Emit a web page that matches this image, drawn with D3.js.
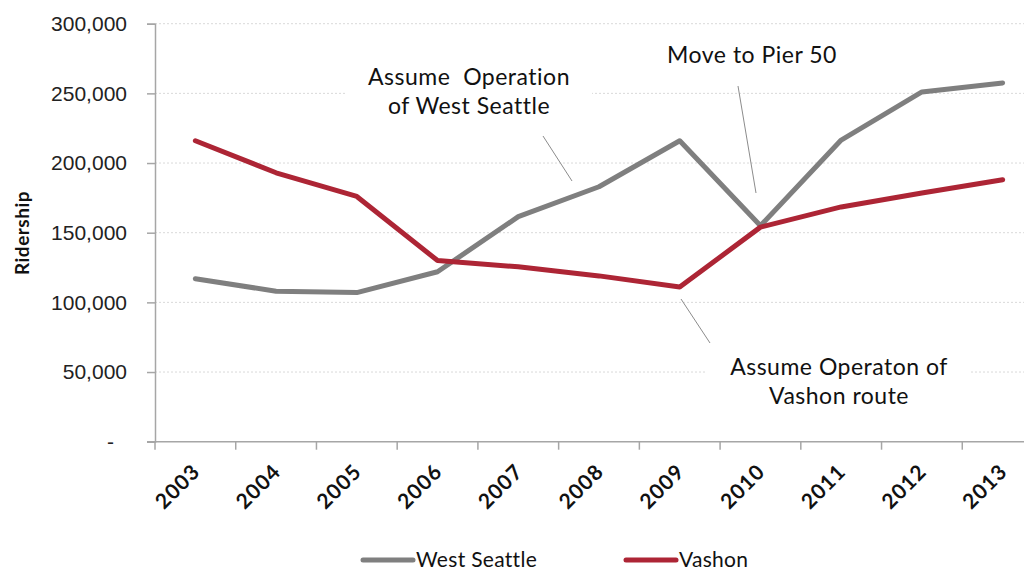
<!DOCTYPE html>
<html>
<head>
<meta charset="utf-8">
<script src="https://cdn.jsdelivr.net/npm/d3@7/dist/d3.min.js"></script>
<style>
  body { margin: 0; background: #fff; }
  svg { display: block; font-family: Lato, "Noto Sans", sans-serif; }
</style>
</head>
<body>
<svg id="chart" width="1024" height="571"></svg>
<script>
(function() {

  // data
  var years = ['2003', '2004', '2005', '2006', '2007', '2008', '2009', '2010', '2011', '2012', '2013'];
  var westSeattle = [117000, 108000, 107000, 122000, 161500, 183000, 216000, 155000, 216500, 251000, 257500];
  var vashon = [216000, 193000, 176000, 130000, 125500, 119000, 111000, 154000, 168500, 178500, 188000];
  var yTicks = [0, 50000, 100000, 150000, 200000, 250000, 300000];
  var seriesNames = ['West Seattle', 'Vashon'];
  var colors = ['#7f7f7f', '#ad2535'];

  var svg = d3.select('#chart');

  var x = d3.scaleBand()
    .domain(years)
    .range([155, 1043]);

  var y = d3.scaleLinear()
    .domain([0, 300000])
    .range([441.7, 23.7]);

  // gridlines (dotted)
  svg.append('g')
    .selectAll('line')
    .data(yTicks.filter(function(d) { return d > 0; }))
    .enter().append('line')
    .attr('x1', 155)
    .attr('x2', 1024)
    .attr('y1', function(d) { return y(d); })
    .attr('y2', function(d) { return y(d); })
    .attr('stroke', '#d9d9d9')
    .attr('stroke-width', 1)
    .attr('stroke-dasharray', '2,2');

  // y axis
  var yAxis = svg.append('g')
    .attr('transform', 'translate(155,0)')
    .call(d3.axisLeft(y)
      .tickValues(yTicks)
      .tickSize(8)
      .tickPadding(20)
      .tickFormat(function(d) { return d === 0 ? '-' : d3.format(',')(d); }));
  yAxis.select('.domain').attr('stroke', '#a6a6a6').attr('stroke-width', 1.5);
  yAxis.selectAll('.tick line').attr('stroke', '#a6a6a6').attr('stroke-width', 1.5);
  yAxis.selectAll('.tick text')
    .attr('fill', '#222')
    .style('font-size', '21px')
    .attr('dx', function(d) { return d === 0 ? -13 : 0; });

  // x axis: line, ticks at band edges, rotated labels at centers
  var xg = svg.append('g');
  xg.append('line')
    .attr('x1', 147).attr('x2', 1024)
    .attr('y1', y(0)).attr('y2', y(0))
    .attr('stroke', '#a6a6a6').attr('stroke-width', 1.5);
  xg.selectAll('.xtick')
    .data(years)
    .enter().append('line')
    .attr('class', 'xtick')
    .attr('x1', function(d) { return x(d); })
    .attr('x2', function(d) { return x(d); })
    .attr('y1', y(0))
    .attr('y2', y(0) + 8)
    .attr('stroke', '#a6a6a6').attr('stroke-width', 1.5);
  xg.selectAll('.xlabel')
    .data(years)
    .enter().append('text')
    .attr('class', 'xlabel')
    .attr('transform', function(d) {
      return 'translate(' + (x(d) + x.bandwidth() / 2 + 6) + ',473) rotate(-45)';
    })
    .attr('text-anchor', 'end')
    .style('font-size', '21px')
    .style('font-weight', 'bold')
    .style('letter-spacing', '1px')
    .attr('fill', '#111')
    .text(function(d) { return d; });

  // y title
  svg.append('text')
    .attr('transform', 'translate(29,233) rotate(-90)')
    .attr('text-anchor', 'middle')
    .style('font-size', '19px')
    .style('font-weight', 'bold')
    .style('letter-spacing', '0.5px')
    .attr('fill', '#111')
    .text('Ridership');

  // annotation boxes (white backgrounds hide the gridlines)
  svg.append('rect').attr('x', 345).attr('y', 60).attr('width', 247).attr('height', 62).attr('fill', '#fff');
  svg.append('rect').attr('x', 705).attr('y', 350).attr('width', 264).attr('height', 64).attr('fill', '#fff');

  // leader lines
  var leaders = [
    [543, 136, 572, 181],
    [738, 86, 756, 193],
    [681, 299, 710, 343]
  ];
  svg.append('g')
    .selectAll('line')
    .data(leaders)
    .enter().append('line')
    .attr('x1', function(d) { return d[0]; })
    .attr('y1', function(d) { return d[1]; })
    .attr('x2', function(d) { return d[2]; })
    .attr('y2', function(d) { return d[3]; })
    .attr('stroke', '#8c8c8c')
    .attr('stroke-width', 1);

  // series lines
  var seriesData = [westSeattle, vashon];
  var line = d3.line()
    .x(function(d, i) { return x(years[i]) + x.bandwidth() / 2; })
    .y(function(d) { return y(d); });

  svg.append('g')
    .selectAll('path')
    .data(seriesData)
    .enter().append('path')
    .attr('d', line)
    .attr('fill', 'none')
    .attr('stroke', function(d, i) { return colors[i]; })
    .attr('stroke-width', 5)
    .attr('stroke-linecap', 'round')
    .attr('stroke-linejoin', 'round');

  // annotation text
  var notes = [
    { x: 469, y: 85, lines: ['Assume\u00a0\u00a0Operation', 'of West Seattle'] },
    { x: 752, y: 63, lines: ['Move to Pier 50'] },
    { x: 839, y: 375, lines: ['Assume Operaton of', 'Vashon route'] }
  ];
  notes.forEach(function(n) {
    var t = svg.append('text')
      .attr('text-anchor', 'middle')
      .style('font-size', '23px')
      .style('letter-spacing', '0.5px')
      .attr('fill', '#111');
    n.lines.forEach(function(s, i) {
      t.append('tspan')
        .attr('x', n.x)
        .attr('y', n.y + i * 28.5)
        .text(s);
    });
  });

  // legend
  var legendX = [363, 626];
  var lg = svg.append('g')
    .selectAll('g')
    .data(seriesNames)
    .enter().append('g')
    .attr('transform', function(d, i) { return 'translate(' + legendX[i] + ',560)'; });
  lg.append('line')
    .attr('x1', 0).attr('x2', 50)
    .attr('stroke', function(d, i) { return colors[i]; })
    .attr('stroke-width', 5)
    .attr('stroke-linecap', 'round');
  lg.append('text')
    .attr('x', 53)
    .attr('y', 7)
    .style('font-size', '21px')
    .style('letter-spacing', '0.3px')
    .attr('fill', '#111')
    .text(function(d) { return d; });

})();
</script>
</body>
</html>
